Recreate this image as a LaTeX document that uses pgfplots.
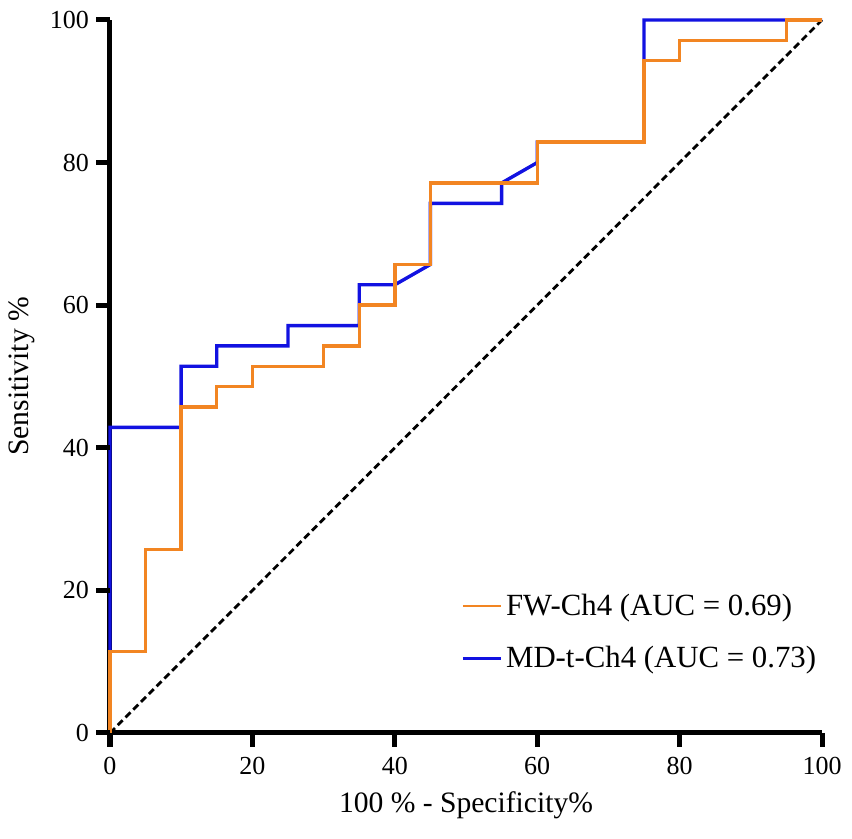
\documentclass[border=0pt]{standalone}
\usepackage{pgfplots}
\pgfplotsset{compat=1.18}
\usepackage{fontspec}
\setmainfont{Liberation Serif}
\definecolor{rocorange}{RGB}{242,133,34}
\definecolor{rocblue}{RGB}{18,18,225}
\begin{document}
\begin{tikzpicture}
\begin{axis}[
  at={(0,0)}, anchor=south west,
  scale only axis,
  width=356pt, height=356.5pt,
  xmin=0, xmax=100, ymin=0, ymax=100,
  axis x line*=bottom, axis y line*=left,
  axis line style={-, line width=2.5pt, black},
  xtick={0,20,...,100}, ytick={0,20,...,100},
  tick align=outside,
  major tick length=7pt,
  tick style={black, line width=2.5pt},
  /pgf/number format/assume math mode=true,
  tick label style={font=\fontsize{13}{13}\selectfont},
  xticklabel style={yshift=-1.5pt},
  every axis x label/.style={at={(axis description cs:0.5,-0.101)}, anchor=center},
  every axis y label/.style={at={(axis description cs:-0.1236,0.5)}, rotate=90, anchor=center},
  label style={font=\fontsize{14.8}{14.8}\selectfont},
  xlabel={100 \% - Specificity\%},
  ylabel={Sensitivity \%},
  clip=false,
  reverse legend,
  legend style={at={(axis description cs:0.485,0.207)}, anchor=north west, draw=none, fill=none,
    font=\fontsize{15.4}{15.4}\selectfont, row sep=10pt},
  legend cell align=left,
  legend image code/.code={\draw[#1, line width=1.2pt] (0pt,0pt) -- (19pt,0pt);},
]
\addplot[black, line width=1.4pt, dash pattern=on 3.5pt off 2pt, forget plot] coordinates {(0,0) (100,100)};
\addplot[rocblue, line width=1.7pt] coordinates {
(0,0) (0,42.86) (10,42.86) (10,51.43) (15,51.43) (15,54.29) (25,54.29) (25,57.14)
(35,57.14) (35,62.86) (40,62.86) (45,65.71) (45,74.29) (55,74.29) (55,77.14)
(60,80) (60,82.86) (75,82.86) (75,100) (100,100)};
\addlegendentry{MD-t-Ch4 (AUC = 0.73)}
\addplot[rocorange, line width=1.7pt] coordinates {
(0,0) (0,11.43) (5,11.43) (5,25.71) (10,25.71) (10,45.71) (15,45.71) (15,48.57)
(20,48.57) (20,51.43) (30,51.43) (30,54.29) (35,54.29) (35,60) (40,60) (40,65.71)
(45,65.71) (45,77.14) (60,77.14) (60,82.86) (75,82.86) (75,94.29) (80,94.29)
(80,97.14) (95,97.14) (95,100) (100,100)};
\addlegendentry{FW-Ch4 (AUC = 0.69)}
\pgfplotsinvokeforeach{0,20,40,60,80,100}{
  \coordinate (xt#1) at (axis cs:#1,0);
  \coordinate (yt#1) at (axis cs:0,#1);
}
\end{axis}
\foreach \v in {0,20,40,60,80,100}{
  \draw[black, line width=2.5pt] (xt\v) -- ++(0pt,-7pt);
  \draw[black, line width=2.5pt] (yt\v) -- ++(-7pt,0pt);
}
\path (-55pt,-53pt) rectangle (371pt,366.5pt);
\end{tikzpicture}
\end{document}
